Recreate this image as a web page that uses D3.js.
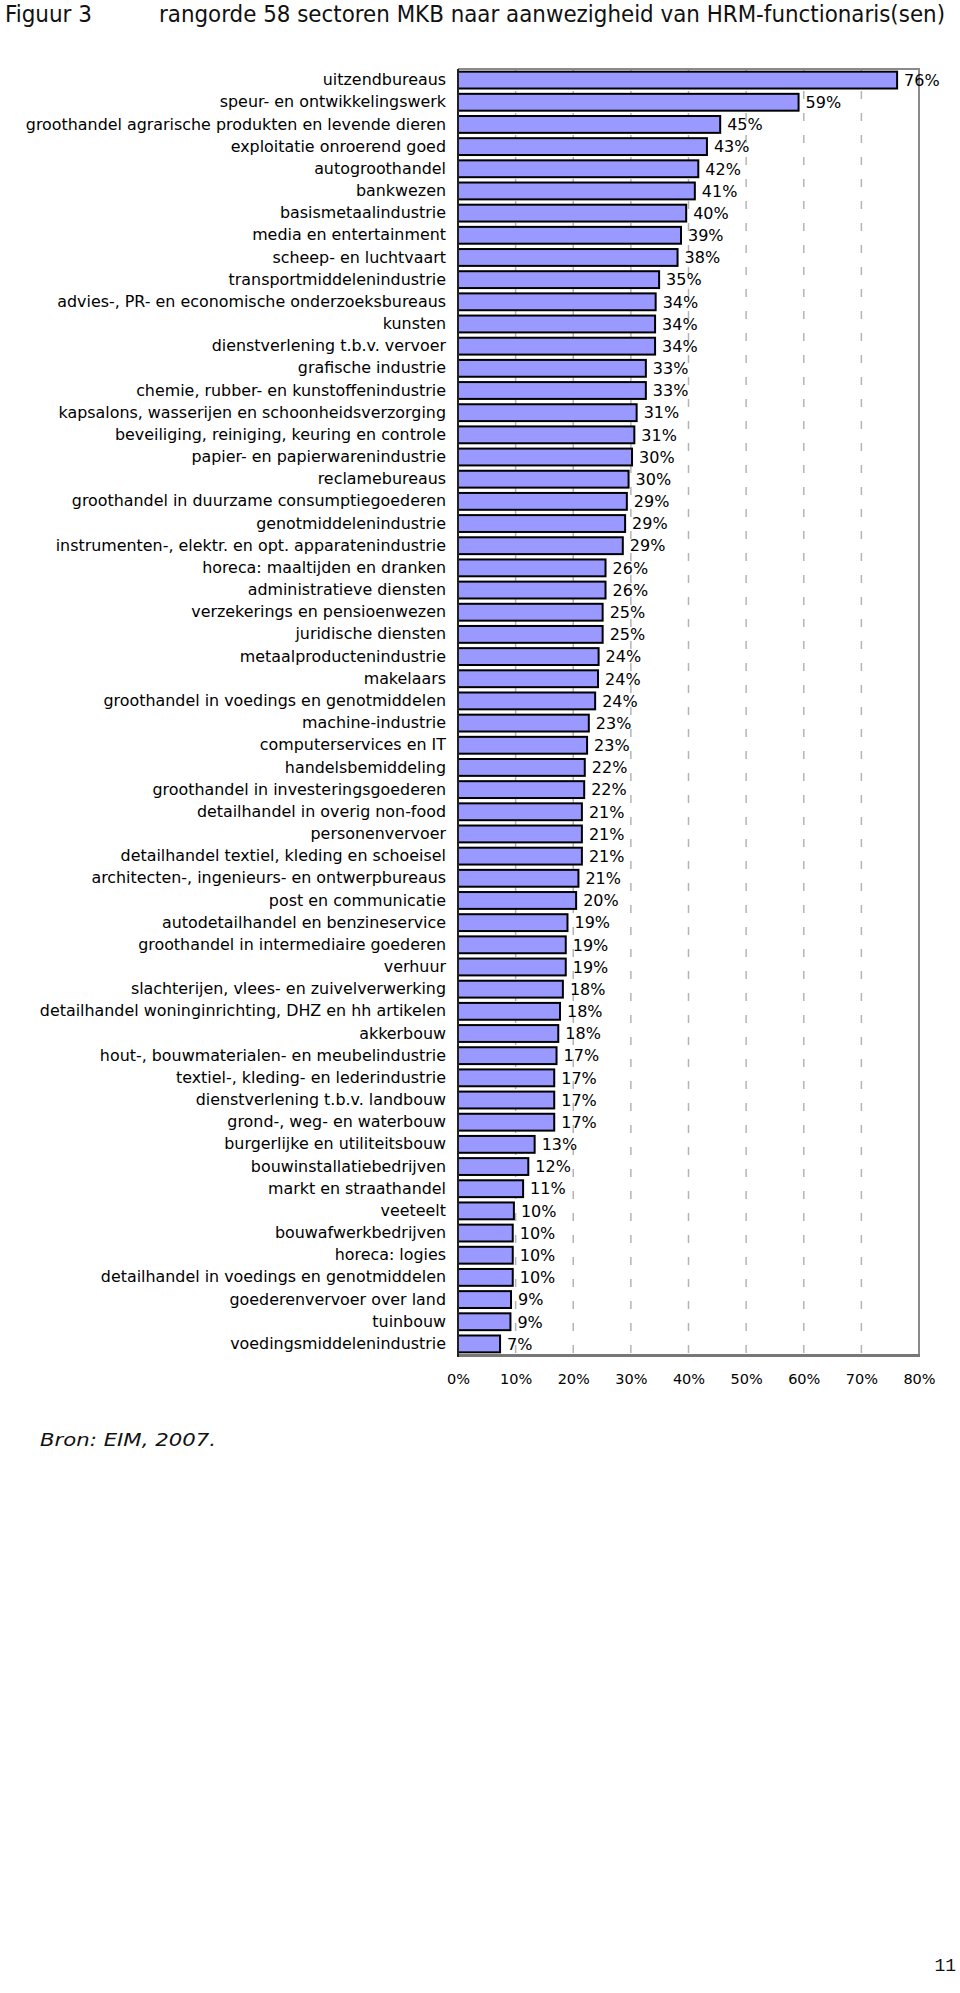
<!DOCTYPE html>
<html>
<head>
<meta charset="utf-8">
<script src="https://cdn.jsdelivr.net/npm/d3@7"></script>
<style>
  html, body { margin: 0; padding: 0; background: #fff; }
  svg { display: block; }
</style>
</head>
<body>
<svg id="chart" width="960" height="1993"></svg>
<script>
const categories = [
  "uitzendbureaus",
  "speur- en ontwikkelingswerk",
  "groothandel agrarische produkten en levende dieren",
  "exploitatie onroerend goed",
  "autogroothandel",
  "bankwezen",
  "basismetaalindustrie",
  "media en entertainment",
  "scheep- en luchtvaart",
  "transportmiddelenindustrie",
  "advies-, PR- en economische onderzoeksbureaus",
  "kunsten",
  "dienstverlening t.b.v. vervoer",
  "grafische industrie",
  "chemie, rubber- en kunstoffenindustrie",
  "kapsalons, wasserijen en schoonheidsverzorging",
  "beveiliging, reiniging, keuring en controle",
  "papier- en papierwarenindustrie",
  "reclamebureaus",
  "groothandel in duurzame consumptiegoederen",
  "genotmiddelenindustrie",
  "instrumenten-, elektr. en opt. apparatenindustrie",
  "horeca: maaltijden en dranken",
  "administratieve diensten",
  "verzekerings en pensioenwezen",
  "juridische diensten",
  "metaalproductenindustrie",
  "makelaars",
  "groothandel in voedings en genotmiddelen",
  "machine-industrie",
  "computerservices en IT",
  "handelsbemiddeling",
  "groothandel in investeringsgoederen",
  "detailhandel in overig non-food",
  "personenvervoer",
  "detailhandel textiel, kleding en schoeisel",
  "architecten-, ingenieurs- en ontwerpbureaus",
  "post en communicatie",
  "autodetailhandel en benzineservice",
  "groothandel in intermediaire goederen",
  "verhuur",
  "slachterijen, vlees- en zuivelverwerking",
  "detailhandel woninginrichting, DHZ en hh artikelen",
  "akkerbouw",
  "hout-, bouwmaterialen- en meubelindustrie",
  "textiel-, kleding- en lederindustrie",
  "dienstverlening t.b.v. landbouw",
  "grond-, weg- en waterbouw",
  "burgerlijke en utiliteitsbouw",
  "bouwinstallatiebedrijven",
  "markt en straathandel",
  "veeteelt",
  "bouwafwerkbedrijven",
  "horeca: logies",
  "detailhandel in voedings en genotmiddelen",
  "goederenvervoer over land",
  "tuinbouw",
  "voedingsmiddelenindustrie"
];

// bar lengths (percent)
const values = [
  76.2, 59.1, 45.5, 43.2, 41.7, 41.1, 39.6, 38.7, 38.1, 34.9,
  34.3, 34.2, 34.2, 32.6, 32.6, 31.0, 30.6, 30.2, 29.6, 29.3,
  29.0, 28.6, 25.6, 25.6, 25.1, 25.1, 24.4, 24.3, 23.8, 22.7,
  22.4, 22.0, 21.9, 21.5, 21.5, 21.5, 20.9, 20.5, 19.0, 18.7,
  18.7, 18.2, 17.7, 17.4, 17.1, 16.7, 16.7, 16.7, 13.3, 12.2,
  11.3, 9.7, 9.5, 9.5, 9.5, 9.2, 9.1, 7.3
];

// printed value labels
const valueLabels = [
  76, 59, 45, 43, 42, 41, 40, 39, 38, 35,
  34, 34, 34, 33, 33, 31, 31, 30, 30, 29,
  29, 29, 26, 26, 25, 25, 24, 24, 24, 23,
  23, 22, 22, 21, 21, 21, 21, 20, 19, 19,
  19, 18, 18, 18, 17, 17, 17, 17, 13, 12,
  11, 10, 10, 10, 10, 9, 9, 7
];

const xTicks = [0, 10, 20, 30, 40, 50, 60, 70, 80];
const gridTicks = [10, 20, 30, 40, 50, 60, 70];

const titleLeft = "Figuur 3";
const titleRight = "rangorde 58 sectoren MKB naar aanwezigheid van HRM-functionaris(sen)";
const sourceText = "Bron: EIM, 2007.";
const pageNumber = "11";

const svg = d3.select("#chart");
const font = "'DejaVu Sans', Verdana, sans-serif";

const plot = { left: 458, right: 919, top: 69, bottom: 1355 };

const x = d3.scaleLinear().domain([0, 80]).range([plot.left, plot.right]);
const y = d3.scaleBand().domain(categories).range([plot.top, plot.bottom])
  .paddingInner(0.24).paddingOuter(0.12);

// title
svg.append("text")
  .attr("x", 5).attr("y", 22)
  .attr("font-family", "'DejaVu Sans Condensed', 'DejaVu Sans', sans-serif")
  .attr("font-size", 23)
  .attr("fill", "#111")
  .attr("textLength", 87).attr("lengthAdjust", "spacingAndGlyphs")
  .text(titleLeft);
svg.append("text")
  .attr("x", 159).attr("y", 22)
  .attr("font-family", "'DejaVu Sans Condensed', 'DejaVu Sans', sans-serif")
  .attr("font-size", 23)
  .attr("fill", "#111")
  .attr("textLength", 786).attr("lengthAdjust", "spacingAndGlyphs")
  .text(titleRight);

// gridlines
svg.append("g").selectAll("line").data(gridTicks).join("line")
  .attr("x1", d => x(d)).attr("x2", d => x(d))
  .attr("y1", plot.top).attr("y2", plot.bottom)
  .attr("stroke", "#b4b4b4").attr("stroke-width", 1.5)
  .attr("stroke-dasharray", "8,14");

// frame (top, right, bottom)
svg.append("path")
  .attr("d", `M${plot.left},${plot.top}H${plot.right}V${plot.bottom}`)
  .attr("fill", "none").attr("stroke", "#8a8a8a").attr("stroke-width", 2);
svg.append("line")
  .attr("x1", plot.left).attr("x2", plot.right + 1)
  .attr("y1", plot.bottom + 0.5).attr("y2", plot.bottom + 0.5)
  .attr("stroke", "#777").attr("stroke-width", 3);

// bars
svg.append("g").selectAll("rect").data(categories).join("rect")
  .attr("x", x(0))
  .attr("y", d => y(d))
  .attr("width", (d, i) => x(values[i]) - x(0))
  .attr("height", y.bandwidth())
  .attr("fill", "#9999ff")
  .attr("stroke", "#000")
  .attr("stroke-width", 2);

// left axis line
svg.append("line")
  .attr("x1", plot.left).attr("x2", plot.left)
  .attr("y1", plot.top).attr("y2", plot.bottom + 2)
  .attr("stroke", "#222").attr("stroke-width", 2);

// value labels
svg.append("g").selectAll("text").data(categories).join("text")
  .attr("x", (d, i) => x(values[i]) + 7)
  .attr("y", d => y(d) + y.bandwidth() / 2)
  .attr("dy", "0.36em")
  .attr("font-family", font)
  .attr("font-size", 16)
  .attr("fill", "#000")
  .text((d, i) => valueLabels[i] + "%");

// category axis
const yAxis = svg.append("g")
  .attr("transform", `translate(${plot.left},0)`)
  .call(d3.axisLeft(y).tickSize(0).tickPadding(12));
yAxis.select(".domain").remove();
yAxis.selectAll("text")
  .attr("font-family", font)
  .attr("font-size", 15.9)
  .attr("fill", "#000");

// x axis
const xAxis = svg.append("g")
  .attr("transform", `translate(0,${plot.bottom})`)
  .call(d3.axisBottom(x).tickValues(xTicks).tickSize(0).tickPadding(19).tickFormat(d => d + "%"));
xAxis.select(".domain").remove();
xAxis.selectAll("text")
  .attr("font-family", font)
  .attr("font-size", 14.5)
  .attr("fill", "#000");

// source
svg.append("text")
  .attr("x", 40).attr("y", 1446)
  .attr("font-family", font)
  .attr("font-style", "italic")
  .attr("font-size", 17)
  .attr("fill", "#111")
  .attr("textLength", 176).attr("lengthAdjust", "spacingAndGlyphs")
  .text(sourceText);

// page number
svg.append("text")
  .attr("x", 956).attr("y", 1971)
  .attr("text-anchor", "end")
  .attr("font-family", "'Liberation Mono', 'DejaVu Sans Mono', monospace")
  .attr("font-size", 18)
  .attr("fill", "#111")
  .text(pageNumber);
</script>
</body>
</html>
